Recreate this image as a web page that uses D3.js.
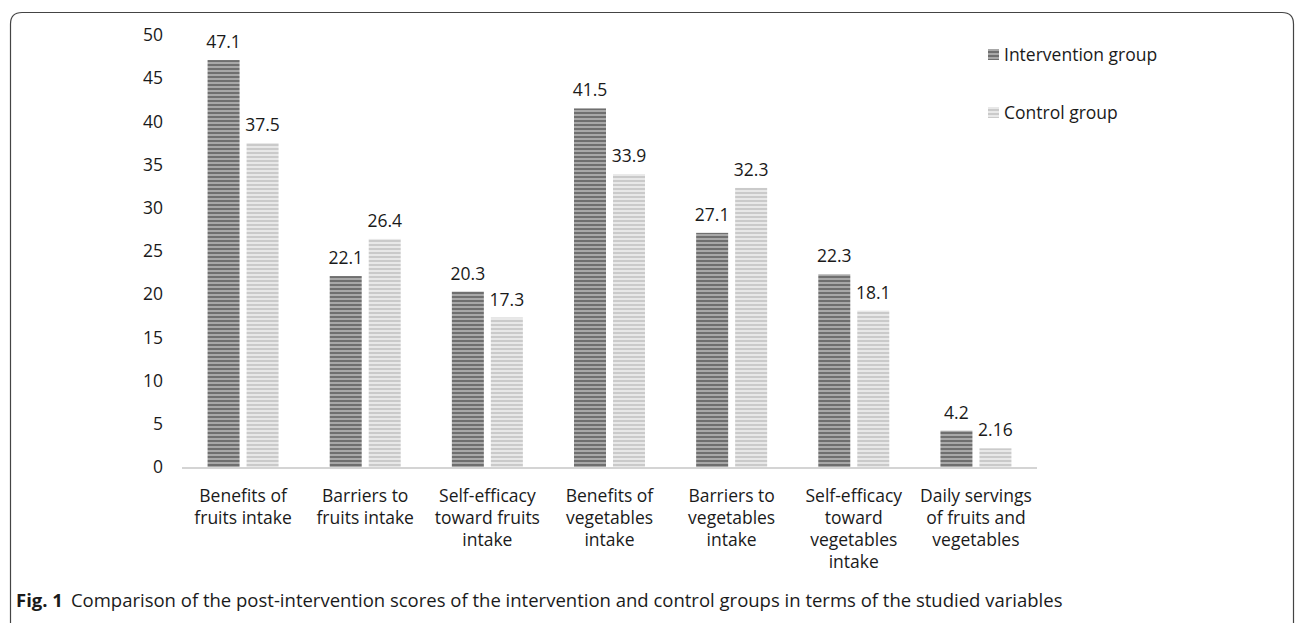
<!DOCTYPE html>
<html>
<head>
<meta charset="utf-8">
<script src="https://cdn.jsdelivr.net/npm/d3@7"></script>
<style>
  body { margin: 0; background: #fff; }
  svg text { font-family: "Open Sans", "Noto Sans", sans-serif; fill: #1a1a1a; }
</style>
</head>
<body>
<div id="chart"></div>
<script>
const categories = [
  ["Benefits of", "fruits intake"],
  ["Barriers to", "fruits intake"],
  ["Self-efficacy", "toward fruits", "intake"],
  ["Benefits of", "vegetables", "intake"],
  ["Barriers to", "vegetables", "intake"],
  ["Self-efficacy", "toward", "vegetables", "intake"],
  ["Daily servings", "of fruits and", "vegetables"]
];
const interventionValues = [47.1, 22.1, 20.3, 41.5, 27.1, 22.3, 4.2];
const controlValues = [37.5, 26.4, 17.3, 33.9, 32.3, 18.1, 2.16];
const valueLabels = {
  intervention: ["47.1", "22.1", "20.3", "41.5", "27.1", "22.3", "4.2"],
  control: ["37.5", "26.4", "17.3", "33.9", "32.3", "18.1", "2.16"]
};
const seriesNames = ["Intervention group", "Control group"];
const yTicks = [0, 5, 10, 15, 20, 25, 30, 35, 40, 45, 50];

const W = 1296, H = 623;
const svg = d3.select("#chart").append("svg")
  .attr("width", W).attr("height", H);

// stripe patterns
const defs = svg.append("defs");
function stripes(id, a, b) {
  const p = defs.append("pattern")
    .attr("id", id)
    .attr("patternUnits", "userSpaceOnUse")
    .attr("width", 8).attr("height", 4);
  p.append("rect").attr("width", 8).attr("height", 4).attr("fill", b);
  p.append("rect").attr("width", 8).attr("height", 2).attr("fill", a);
}
stripes("darkStripe", "#6f6f6f", "#a8a8a8");
stripes("lightStripe", "#cacaca", "#e8e8e8");

// frame
svg.append("path")
  .attr("d", "M10.5,623 L10.5,24 Q10.5,12.5 22,12.5 L1282,12.5 Q1293.5,12.5 1293.5,24 L1293.5,623")
  .attr("fill", "none")
  .attr("stroke", "#444")
  .attr("stroke-width", 1.2);

const x = d3.scaleBand()
  .domain(d3.range(categories.length))
  .range([182, 1037]);

const y = d3.scaleLinear()
  .domain([0, 50])
  .range([467, 35]);

// y tick labels (no axis line)
const yAxis = svg.append("g")
  .attr("transform", "translate(163,0)")
  .call(d3.axisLeft(y).tickValues(yTicks).tickSize(0).tickPadding(0));
yAxis.select(".domain").remove();
yAxis.selectAll("text")
  .attr("x", 0)
  .style("font-size", "17.5px")
  .style("font-family", "'Open Sans', 'Noto Sans', sans-serif")
  .attr("fill", "#1a1a1a");

const barW = 32, gap = 7;
const offsets = [-gap / 2 - barW, gap / 2];
const series = [
  { values: interventionValues, labels: valueLabels.intervention, fill: "url(#darkStripe)" },
  { values: controlValues, labels: valueLabels.control, fill: "url(#lightStripe)" }
];

series.forEach((s, si) => {
  const cx = i => x(i) + x.bandwidth() / 2 + offsets[si];
  svg.append("g").selectAll("rect")
    .data(s.values)
    .join("rect")
    .attr("x", (d, i) => cx(i))
    .attr("y", d => y(d))
    .attr("width", barW)
    .attr("height", d => y(0) - y(d))
    .attr("fill", s.fill);

  svg.append("g").selectAll("text")
    .data(s.values)
    .join("text")
    .attr("x", (d, i) => cx(i) + barW / 2)
    .attr("y", d => y(d) - 12)
    .attr("text-anchor", "middle")
    .style("font-size", "17.5px")
    .text((d, i) => s.labels[i]);
});

// x axis baseline
svg.append("line")
  .attr("x1", x.range()[0]).attr("x2", x.range()[1])
  .attr("y1", y(0) + 1).attr("y2", y(0) + 1)
  .attr("stroke", "#d4d4d4")
  .attr("stroke-width", 2);

// category labels
const catG = svg.append("g");
categories.forEach((lines, i) => {
  const t = catG.append("text")
    .attr("x", x(i) + x.bandwidth() / 2)
    .attr("y", 502)
    .attr("text-anchor", "middle")
    .style("font-size", "17.5px");
  lines.forEach((ln, j) => {
    t.append("tspan")
      .attr("x", x(i) + x.bandwidth() / 2)
      .attr("dy", j === 0 ? 0 : 22)
      .text(ln);
  });
});

// legend
const legend = svg.append("g").attr("transform", "translate(988,55)");
[["url(#darkStripe)", seriesNames[0]], ["url(#lightStripe)", seriesNames[1]]].forEach((d, i) => {
  const g = legend.append("g").attr("transform", `translate(0,${i * 58})`);
  g.append("rect").attr("x", 0).attr("y", -6).attr("width", 11).attr("height", 11).attr("fill", d[0]);
  g.append("text").attr("x", 16).attr("y", 6).style("font-size", "17.5px").text(d[1]);
});

// caption
const cap = svg.append("text")
  .attr("x", 16).attr("y", 607)
  .style("font-size", "18.5px");
cap.append("tspan").style("font-weight", "bold").text("Fig. 1");
cap.append("tspan").attr("dx", 8)
  .text("Comparison of the post-intervention scores of the intervention and control groups in terms of the studied variables");
</script>
</body>
</html>
